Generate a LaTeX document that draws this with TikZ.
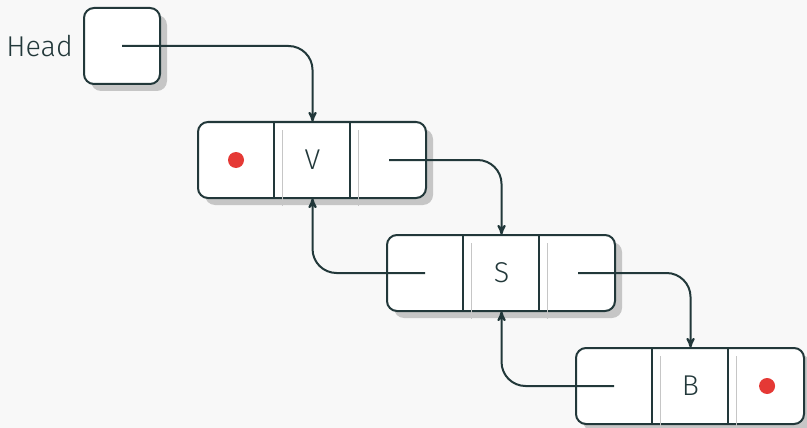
\documentclass[tikz,border=0pt]{standalone}
\usepackage{fontspec}
\setmainfont{Fira Sans Light}
\usepackage{tikz}
\usetikzlibrary{shapes,arrows,positioning}
\usepackage{color}

\definecolor{ink}{HTML}{22383A}
\definecolor{dot}{HTML}{E53935}
\definecolor{shade}{HTML}{C6C6C6}
\definecolor{paper}{HTML}{F8F8F8}

\tikzset{
  cell/.style={minimum size=57pt, inner sep=0pt, text=ink,
    font=\fontsize{21.5}{26}\selectfont},
  nul/.style={circle, fill=dot, minimum size=12pt, inner sep=0pt},
  box/.style={fill=white, draw=ink, line width=1.5pt, rounded corners=7.5pt},
  boxshadow/.style={fill=shade, rounded corners=7.5pt},
  ghost/.style={draw=shade, line width=0.75pt},
  sep/.style={draw=ink, line width=1.5pt},
  link/.style={draw=ink, line width=1.5pt, rounded corners=18pt, -stealth'},
}

\begin{document}
\begin{tikzpicture}[x=0.75pt,y=-0.75pt]
  \fill[paper] (0,0) rectangle (807,428);
  \useasboundingbox (0,0) rectangle (807,428);

  % boxes
  \coordinate (hc) at (122,46);
  \coordinate (vc) at (236,160);
  \coordinate (sc) at (425,273);
  \coordinate (bc) at (614,386);
  \fill[boxshadow] ([shift={(-31,-31)}]hc) rectangle ([shift={(45,45)}]hc);
  \draw[box] ([shift={(-38,-38)}]hc) rectangle ([shift={(38,38)}]hc);
  \foreach \p in {vc, sc, bc} {
    \fill[boxshadow] ([shift={(-31,-31)}]\p) rectangle ([shift={(197,45)}]\p);
    \draw[box] ([shift={(-38,-38)}]\p) rectangle ([shift={(190,38)}]\p);
    \foreach \dx in {38, 114} {
      \draw[ghost] ([shift={(\dx+8,-30)}]\p) -- ([shift={(\dx+8,46)}]\p);
      \draw[sep] ([shift={(\dx,-38)}]\p) -- ([shift={(\dx,38)}]\p);
    }
  }

  % vertices
  \node[cell] (h) at (hc) {};
  \node[cell] (v1) at (vc) {};
  \node[cell, right=0pt of v1] (v2) {V};
  \node[cell, right=0pt of v2] (v3) {};
  \node[cell] (s1) at (sc) {};
  \node[cell, right=0pt of s1] (s2) {S};
  \node[cell, right=0pt of s2] (s3) {};
  \node[cell] (b1) at (bc) {};
  \node[cell, right=0pt of b1] (b2) {B};
  \node[cell, right=0pt of b2] (b3) {};

  % draw links
  \draw[link] (h.center) -| (v2.north);
  \draw[link] (v3.center) -| (s2.north);
  \draw[link] (s1.center) -| (v2.south);
  \draw[link] (s3.center) -| (b2.north);
  \draw[link] (b1.center) -| (s2.south);

  % labels
  \node[nul] at (v1) {};
  \node[nul] at (b3) {};
  \node[cell, minimum size=0pt, left=8pt of h] (head) {Head};
\end{tikzpicture}
\end{document}
